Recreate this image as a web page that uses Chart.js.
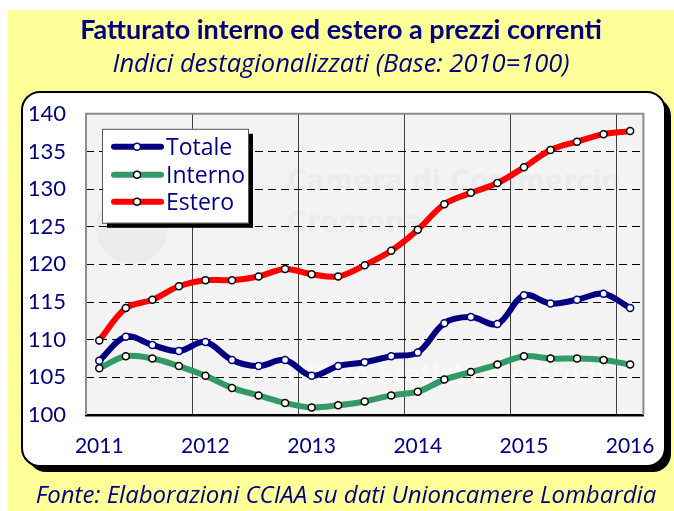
<!DOCTYPE html>
<html><head><meta charset="utf-8">
<script src="https://cdn.jsdelivr.net/npm/chart.js@4"></script>
<style>html,body{margin:0;padding:0;background:#fff}canvas{display:block}</style>
</head><body>
<canvas id="c" width="674" height="511"></canvas>
<script>
// ---- data ----
const categories = ['2011 T1','2011 T2','2011 T3','2011 T4','2012 T1','2012 T2','2012 T3','2012 T4','2013 T1','2013 T2','2013 T3','2013 T4','2014 T1','2014 T2','2014 T3','2014 T4','2015 T1','2015 T2','2015 T3','2015 T4','2016 T1'];
const tickLabels = ['2011','2012','2013','2014','2015','2016'];
const totale  = [107.2,110.4,109.3,108.5,109.7,107.3,106.5,107.3,105.2,106.5,107.0,107.8,108.3,112.2,113.0,112.1,115.9,114.8,115.3,116.1,114.2];
const interno = [106.2,107.8,107.5,106.5,105.2,103.6,102.6,101.6,101.0,101.3,101.8,102.6,103.1,104.7,105.7,106.7,107.8,107.5,107.5,107.3,106.7];
const estero  = [109.9,114.2,115.3,117.1,117.9,117.9,118.4,119.4,118.7,118.4,119.9,121.8,124.6,128.0,129.5,130.8,132.9,135.2,136.3,137.3,137.7];
const seriesNames = ['Totale','Interno','Estero'];
const titleText = 'Fatturato interno ed estero a prezzi correnti';
const subtitleText = 'Indici destagionalizzati (Base: 2010=100)';
const footerText = 'Fonte: Elaborazioni CCIAA su dati Unioncamere Lombardia';

const NAVY = '#000080';
const FONT = 'Lato, "Open Sans", sans-serif';
const FONT2 = '"Open Sans", Lato, sans-serif';

function roundRect(ctx, x, y, w, h, r) {
  ctx.beginPath();
  ctx.moveTo(x + r, y);
  ctx.arcTo(x + w, y, x + w, y + h, r);
  ctx.arcTo(x + w, y + h, x, y + h, r);
  ctx.arcTo(x, y + h, x, y, r);
  ctx.arcTo(x, y, x + w, y, r);
  ctx.closePath();
}

const decor = {
  id: 'decor',
  beforeDraw(chart) {
    const {ctx, chartArea: a} = chart;
    ctx.save();
    ctx.fillStyle = '#fff'; ctx.fillRect(0, 0, 674, 511);
    ctx.fillStyle = '#FFFF99'; ctx.fillRect(8, 10, 666, 501);
    // panel shadow + panel
    ctx.fillStyle = '#000'; roundRect(ctx, 28, 98, 643, 374, 18); ctx.fill();
    ctx.fillStyle = '#fff'; roundRect(ctx, 22, 92, 643, 374, 18); ctx.fill();
    ctx.lineWidth = 2; ctx.strokeStyle = '#000'; ctx.stroke();
    // plot background
    ctx.fillStyle = '#F3F3F3';
    ctx.fillRect(a.left, a.top, a.right - a.left, a.bottom - a.top);
    // faint watermark
    ctx.fillStyle = '#ECECEC';
    ctx.beginPath(); ctx.arc(132, 228, 36, 0, Math.PI * 2); ctx.fill();
    ctx.font = 'bold 30px "DejaVu Sans Condensed", "DejaVu Sans", sans-serif';
    ctx.textBaseline = 'middle'; ctx.textAlign = 'left';
    ctx.fillText('Camera di Commercio', 287, 183);
    ctx.fillText('Cremona', 287, 224);
    ctx.fillStyle = '#F8F8F8';
    ctx.font = 'bold 26px "DejaVu Sans Condensed", "DejaVu Sans", sans-serif';
    ctx.fillText('Ufficio Statistica e Studi', 286, 377);
    ctx.restore();
  },
  beforeDatasetsDraw(chart) {
    const {ctx, chartArea: a} = chart;
    ctx.save();
    ctx.strokeStyle = '#8C8C8C'; ctx.lineWidth = 2;
    ctx.beginPath();
    ctx.moveTo(a.left, a.bottom); ctx.lineTo(a.left, a.top);
    ctx.lineTo(a.right, a.top); ctx.lineTo(a.right, a.bottom);
    ctx.stroke();
    ctx.restore();
  },
  afterDatasetsDraw(chart) {
    const {ctx, chartArea: a} = chart;
    const x = a.left + 16, y = a.top + 15, w = 146, h = 94;
    ctx.save();
    ctx.fillStyle = '#000'; ctx.fillRect(x + 5, y + 5, w, h);
    ctx.fillStyle = '#fff'; ctx.fillRect(x, y, w, h);
    ctx.strokeStyle = '#555'; ctx.lineWidth = 1; ctx.strokeRect(x + 0.5, y + 0.5, w, h);
    const rows = [y + 18, y + 46, y + 73];
    chart.data.datasets.forEach((ds, i) => {
      const ry = rows[i];
      ctx.strokeStyle = ds.borderColor; ctx.lineWidth = 6; ctx.lineCap = 'round';
      ctx.beginPath(); ctx.moveTo(x + 12, ry); ctx.lineTo(x + 59, ry); ctx.stroke();
      ctx.fillStyle = '#fff'; ctx.strokeStyle = ds.pointBorderColor; ctx.lineWidth = 1.5;
      ctx.beginPath(); ctx.arc(x + 35, ry, 3.5, 0, Math.PI * 2); ctx.fill(); ctx.stroke();
      ctx.fillStyle = NAVY; ctx.font = '23px ' + FONT2;
      ctx.textAlign = 'left'; ctx.textBaseline = 'middle';
      ctx.fillText(ds.label, x + 64, ry + 2);
    });
    ctx.restore();
  },
  afterDraw(chart) {
    const {ctx} = chart;
    ctx.save();
    ctx.fillStyle = NAVY; ctx.font = 'italic 24px ' + FONT2;
    ctx.textAlign = 'center'; ctx.textBaseline = 'middle';
    ctx.fillText(footerText, 346, 496);
    ctx.restore();
  }
};

function mkDataset(label, data, color, pointBorder) {
  return {
    label, data,
    borderColor: color, backgroundColor: color,
    borderWidth: 6, tension: 0.35,
    pointRadius: 3.5, pointHoverRadius: 3.5,
    pointBackgroundColor: '#fff', pointBorderColor: pointBorder, pointBorderWidth: 1.5,
    fill: false
  };
}

new Chart(document.getElementById('c'), {
  type: 'line',
  data: {
    labels: categories,
    datasets: [
      mkDataset(seriesNames[0], totale, NAVY, NAVY),
      mkDataset(seriesNames[1], interno, '#339966', '#000'),
      mkDataset(seriesNames[2], estero, '#FF0000', '#000')
    ]
  },
  options: {
    responsive: false,
    animation: false,
    events: [],
    layout: { padding: { top: 0, left: 30, right: 22, bottom: 32.8 } },
    plugins: {
      legend: { display: false },
      tooltip: { enabled: false },
      title: {
        display: true, text: titleText, color: NAVY,
        font: { family: FONT, size: 27, weight: 'bold', lineHeight: 1.2 },
        padding: { top: 14, bottom: 0 }
      },
      subtitle: {
        display: true, text: subtitleText, color: NAVY,
        font: { family: FONT2, size: 25.5, style: 'italic', lineHeight: 1.2 },
        padding: { top: 3, bottom: 33.8 }
      }
    },
    scales: {
      x: {
        offset: true,
        grid: {
          offset: true, drawTicks: false, lineWidth: 1,
          color: (c) => (c.index > 0 && c.index % 4 === 0) ? '#404040' : 'transparent'
        },
        border: { display: true, color: '#000', width: 2.5 },
        ticks: {
          autoSkip: false, maxRotation: 0, padding: 19, color: NAVY,
          font: { family: FONT, size: 21 },
          callback: (v, i) => (i % 4 === 0) ? tickLabels[i / 4] : ''
        }
      },
      y: {
        min: 100, max: 140,
        afterFit: (s) => { s.width = 56; },
        grid: {
          drawTicks: false, lineWidth: 1,
          color: (c) => (c.tick && (c.tick.value === 100 || c.tick.value === 140)) ? 'transparent' : '#000'
        },
        border: { display: false, dash: [8, 5] },
        ticks: {
          stepSize: 5, padding: 20, color: NAVY,
          font: { family: FONT, size: 22 }
        }
      }
    }
  },
  plugins: [decor]
});
</script>
</body></html>
